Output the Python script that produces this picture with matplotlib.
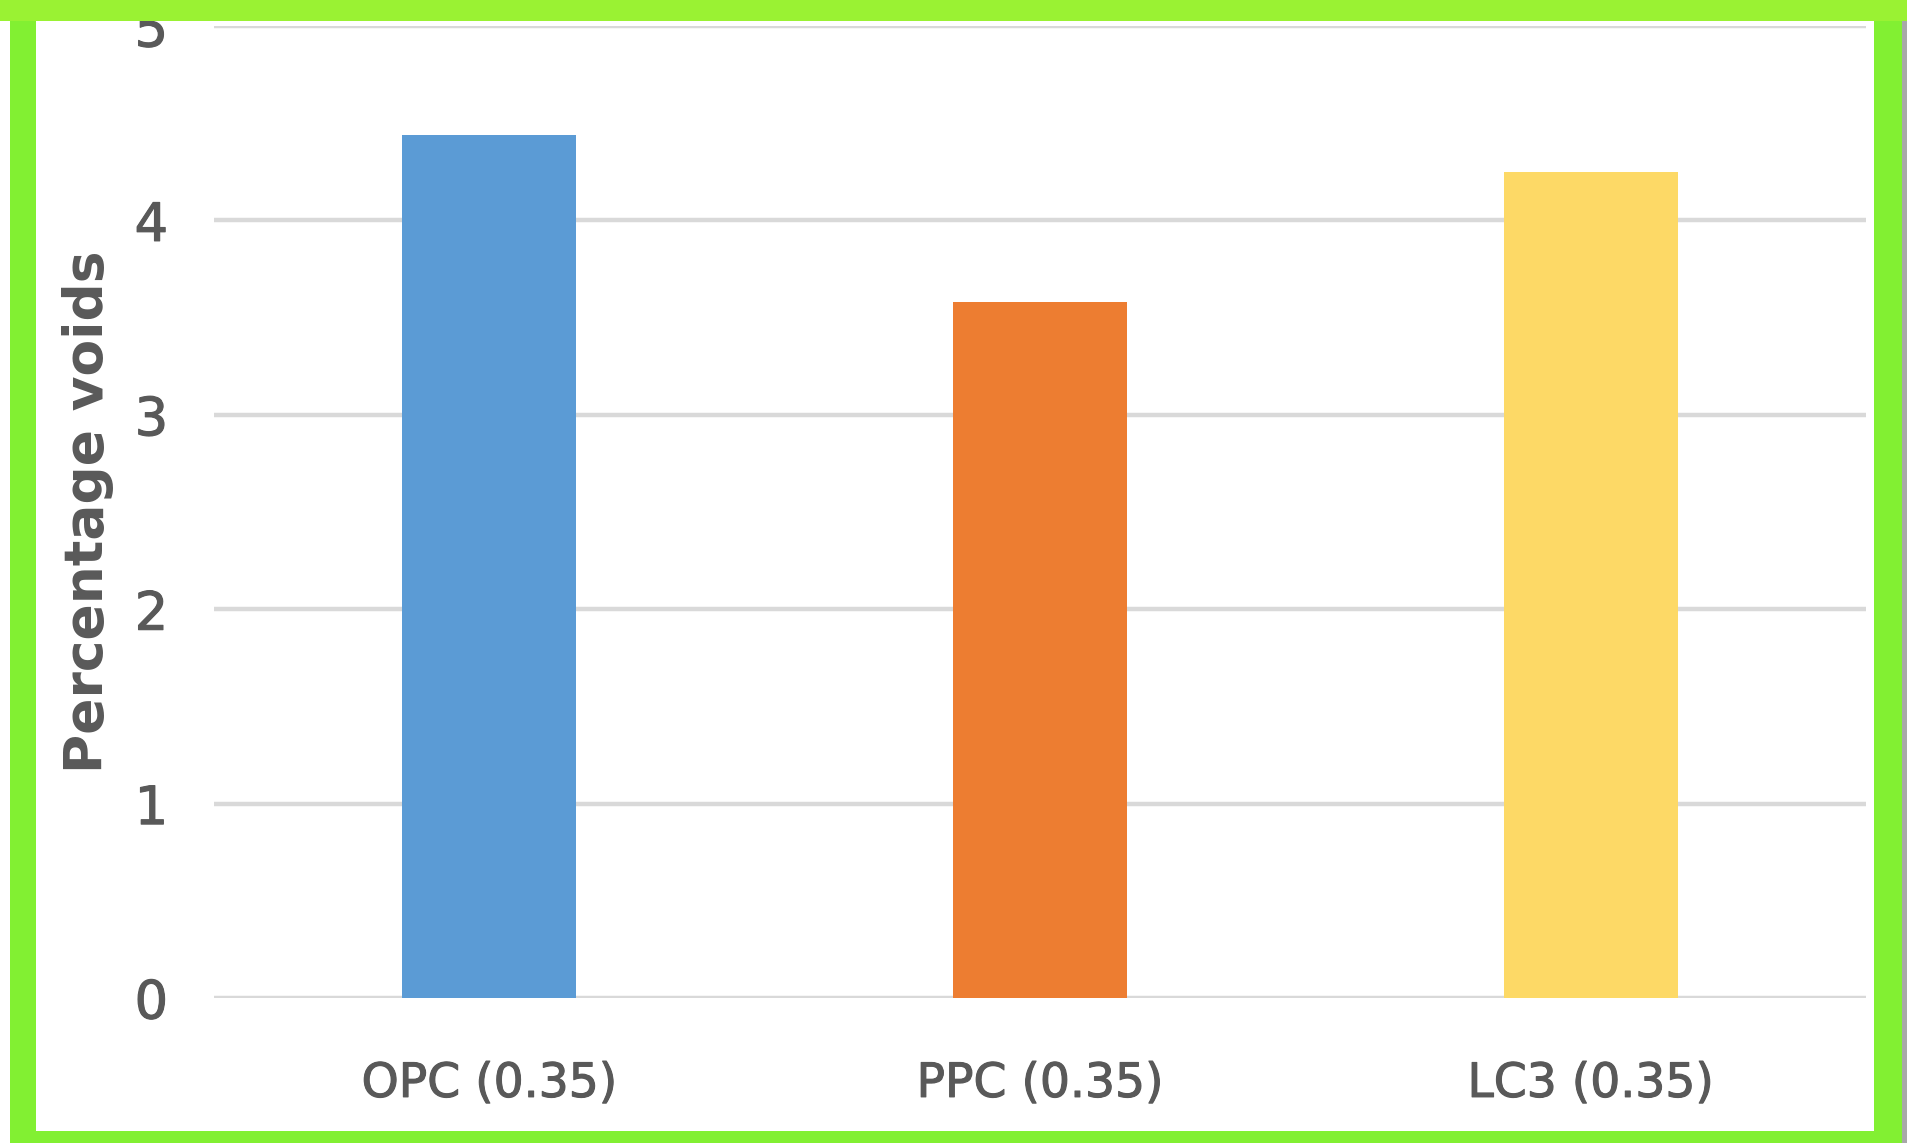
import matplotlib
matplotlib.use("Agg")
import matplotlib.pyplot as plt
from matplotlib import font_manager as fm
from matplotlib.patches import Rectangle
import matplotlib.patheffects as pe

categories = ["OPC (0.35)", "PPC (0.35)", "LC3 (0.35)"]
values = [4.44, 3.58, 4.25]
bar_colors = ["#5B9BD5", "#ED7D31", "#FDD966"]
yticks = [0, 1, 2, 3, 4, 5]
ylabel = "Percentage voids"

names = {f.name for f in fm.fontManager.ttflist}
if "Liberation Sans Narrow" in names:
    FAM = "Liberation Sans Narrow"
    xs, ys, ls = 42, 42, 46
else:
    FAM = "DejaVu Sans"
    xs, ys, ls = 34, 38, 38.5

TXT = "#595959"
thick = [pe.withStroke(linewidth=0.8, foreground=TXT)]

W, H = 1908, 1143
fig = plt.figure(figsize=(W / 100, H / 100), dpi=100)
fig.patch.set_facecolor("#82F032")

# white strip at far left
fig.add_artist(Rectangle((0, 0), 10 / W, 1, transform=fig.transFigure,
                         facecolor="white", edgecolor="none", zorder=-6))
# white chart area
fig.add_artist(Rectangle((36 / W, 1 - 1131 / H), (1874 - 36) / W, (1131 - 21) / H,
                         transform=fig.transFigure, facecolor="white",
                         edgecolor="none", zorder=-5))
# top band
fig.add_artist(Rectangle((0, 1 - 21 / H), 1, 21 / H, transform=fig.transFigure,
                         facecolor="#9AF233", edgecolor="none", zorder=10))
# right shadow
fig.add_artist(Rectangle((1902 / W, 0), 6 / W, 1 - 21 / H, transform=fig.transFigure,
                         facecolor="#A8A8A8", edgecolor="none", zorder=10))

left, right = 214 / W, 1866 / W
bottom, top = 1 - 998 / H, 1 - 26 / H
ax = fig.add_axes([left, bottom, right - left, top - bottom])
ax.set_facecolor("none")

x = range(len(categories))
ax.bar(x, values, width=0.316, color=bar_colors, zorder=3)

ax.set_xlim(-0.5, len(categories) - 0.5)
ax.set_ylim(0, 5)
ax.set_yticks(yticks)
ax.set_yticklabels([str(t) for t in yticks])
ax.set_xticks(list(x))
ax.set_xticklabels(categories)

for s in ax.spines.values():
    s.set_visible(False)
ax.yaxis.grid(True, color="#D9D9D9", linewidth=3.2, zorder=0)
ax.set_axisbelow(True)
ax.tick_params(axis="both", length=0, colors=TXT)
ax.tick_params(axis="x", pad=46)
ax.tick_params(axis="y", pad=33)
for lab in ax.get_xticklabels():
    lab.set_fontfamily(FAM); lab.set_fontsize(xs); lab.set_path_effects(thick)
for lab in ax.get_yticklabels():
    lab.set_fontfamily(FAM); lab.set_fontsize(ys); lab.set_path_effects(thick)

ax.set_ylabel(ylabel, fontsize=ls, fontweight="bold", color=TXT,
              family=FAM, va="center")
ax.yaxis.set_label_coords((88 - 214) / (1866 - 214), 0.5)

fig.savefig("out.png", dpi=100, facecolor=fig.get_facecolor())
